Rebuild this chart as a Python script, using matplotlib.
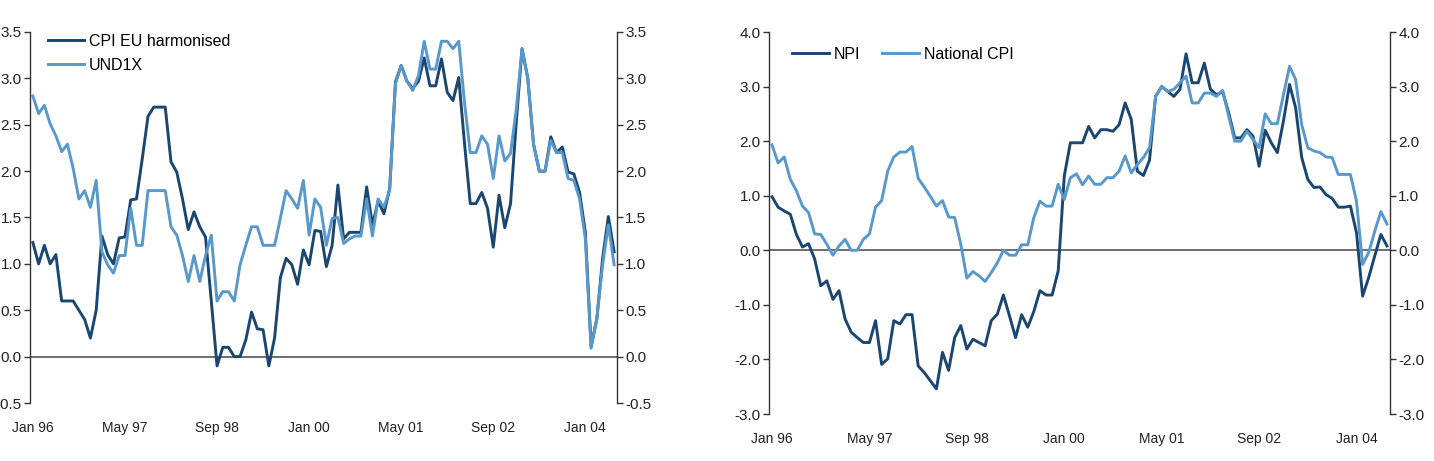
import matplotlib
matplotlib.use('Agg')
import matplotlib.pyplot as plt
import numpy as np
from matplotlib.ticker import FormatStrFormatter

plt.rcParams['font.family'] = ['Liberation Sans', 'DejaVu Sans']

# Monthly observations, Jan 96 .. Jun 04
months = np.arange(102)
tick_pos = [0, 16, 32, 48, 64, 80, 96]
tick_labels = ['Jan 96', 'May 97', 'Sep 98', 'Jan 00', 'May 01', 'Sep 02', 'Jan 04']

cpi_eu = [1.23, 1.0, 1.2, 1.0, 1.1, 0.6, 0.6, 0.6, 0.5, 0.4,
          0.2, 0.5, 1.3, 1.1, 1.0, 1.28, 1.29, 1.69, 1.7, 2.13,
          2.59, 2.69, 2.69, 2.69, 2.1, 1.99, 1.7, 1.37, 1.56, 1.4,
          1.29, 0.6, -0.1, 0.1, 0.1, 0.0, 0.0, 0.18, 0.48, 0.3,
          0.29, -0.1, 0.2, 0.85, 1.06, 0.99, 0.78, 1.15, 0.99, 1.36,
          1.35, 0.97, 1.2, 1.85, 1.27, 1.34, 1.34, 1.34, 1.83, 1.42,
          1.68, 1.54, 1.81, 2.96, 3.14, 2.97, 2.89, 2.97, 3.22, 2.92,
          2.92, 3.21, 2.85, 2.76, 3.01, 2.3, 1.65, 1.65, 1.77, 1.6,
          1.18, 1.74, 1.39, 1.65, 2.53, 3.32, 3.0, 2.29, 2.0, 2.0,
          2.37, 2.2, 2.26, 1.99, 1.97, 1.77, 1.34, 0.11, 0.41, 1.06,
          1.51, 1.13]

und1x = [2.81, 2.62, 2.71, 2.51, 2.38, 2.21, 2.29, 2.03, 1.7, 1.79,
         1.61, 1.9, 1.13, 0.99, 0.9, 1.09, 1.09, 1.6, 1.2, 1.2,
         1.79, 1.79, 1.79, 1.79, 1.4, 1.31, 1.09, 0.81, 1.09, 0.81,
         1.09, 1.31, 0.6, 0.7, 0.7, 0.6, 0.99, 1.2, 1.4, 1.4,
         1.2, 1.2, 1.2, 1.49, 1.79, 1.7, 1.6, 1.9, 1.31, 1.7,
         1.61, 1.2, 1.49, 1.5, 1.22, 1.27, 1.3, 1.3, 1.7, 1.3,
         1.7, 1.61, 1.8, 2.94, 3.14, 2.97, 2.87, 3.03, 3.4, 3.1,
         3.1, 3.4, 3.4, 3.32, 3.4, 2.74, 2.2, 2.2, 2.38, 2.29,
         1.92, 2.38, 2.11, 2.19, 2.67, 3.32, 3.0, 2.29, 2.0, 2.0,
         2.33, 2.2, 2.2, 1.92, 1.9, 1.7, 1.27, 0.09, 0.41, 0.99,
         1.42, 0.99]

npi = [0.98, 0.79, 0.72, 0.66, 0.29, 0.06, 0.12, -0.16, -0.65, -0.56,
       -0.9, -0.74, -1.26, -1.5, -1.6, -1.69, -1.69, -1.29, -2.09, -1.99,
       -1.29, -1.35, -1.18, -1.18, -2.12, -2.24, -2.39, -2.54, -1.87, -2.2,
       -1.6, -1.38, -1.81, -1.63, -1.69, -1.75, -1.29, -1.17, -0.82, -1.2,
       -1.6, -1.18, -1.41, -1.12, -0.74, -0.82, -0.82, -0.38, 1.36, 1.97,
       1.97, 1.97, 2.27, 2.06, 2.21, 2.21, 2.18, 2.3, 2.7, 2.4,
       1.45, 1.37, 1.65, 2.82, 3.0, 2.91, 2.82, 2.95, 3.6, 3.07,
       3.07, 3.43, 2.95, 2.85, 2.91, 2.52, 2.06, 2.06, 2.21, 2.09,
       1.54, 2.2, 1.97, 1.79, 2.37, 3.04, 2.61, 1.7, 1.3, 1.15,
       1.16, 1.02, 0.95, 0.79, 0.79, 0.81, 0.32, -0.84, -0.5, -0.1,
       0.29, 0.08]

national_cpi = [1.93, 1.6, 1.71, 1.3, 1.09, 0.81, 0.69, 0.3, 0.29, 0.11,
                -0.09, 0.08, 0.2, 0.0, 0.0, 0.2, 0.3, 0.79, 0.91, 1.45,
                1.71, 1.8, 1.8, 1.9, 1.32, 1.16, 0.99, 0.81, 0.91, 0.61,
                0.6, 0.11, -0.51, -0.39, -0.47, -0.57, -0.41, -0.23, 0.0, -0.09,
                -0.09, 0.1, 0.1, 0.6, 0.9, 0.81, 0.81, 1.21, 0.93, 1.33,
                1.4, 1.2, 1.36, 1.21, 1.21, 1.33, 1.33, 1.45, 1.73, 1.42,
                1.57, 1.7, 1.88, 2.82, 3.0, 2.91, 2.95, 3.07, 3.19, 2.7,
                2.7, 2.88, 2.88, 2.82, 2.93, 2.46, 2.0, 2.0, 2.18, 2.03,
                1.88, 2.5, 2.32, 2.32, 2.85, 3.37, 3.13, 2.3, 1.88, 1.82,
                1.79, 1.71, 1.7, 1.39, 1.39, 1.39, 0.9, -0.26, -0.04, 0.35,
                0.71, 0.48]

DARK = '#1a4670'
LIGHT = '#5898cb'
TXT = '#222222'
W, H = 1434, 461

fig = plt.figure(figsize=(W / 100, H / 100), dpi=100)
ax1 = fig.add_axes([30 / W, (H - 403) / H, 587 / W, 371 / H])
ax2 = fig.add_axes([769 / W, (H - 414) / H, 621 / W, 382 / H])


def style(ax, lo, hi, step):
    ax.set_xlim(-0.5, 101.5)
    ax.set_ylim(lo, hi)
    ax.set_yticks(np.arange(lo, hi + 1e-9, step))
    ax.yaxis.set_major_formatter(FormatStrFormatter('%.1f'))
    ax.set_xticks(tick_pos)
    ax.set_xticklabels(tick_labels)
    ax.tick_params(axis='x', length=0, pad=13, labelsize=10, colors=TXT)
    ax.tick_params(axis='y', direction='out', length=4, width=1,
                   left=True, right=True, labelleft=True, labelright=True,
                   labelsize=11, pad=2, color='#333333', labelcolor=TXT)
    for s in ['top', 'bottom']:
        ax.spines[s].set_visible(False)
    for s in ['left', 'right']:
        ax.spines[s].set_color('#333333')
        ax.spines[s].set_linewidth(1)
    ax.axhline(0, color='#555555', lw=1.2, zorder=1)


style(ax1, -0.5, 3.5, 0.5)
style(ax2, -3.0, 4.0, 1.0)

ax1.plot(months, cpi_eu, color=DARK, lw=2.1, label='CPI EU harmonised', zorder=3)
ax1.plot(months, und1x, color=LIGHT, lw=2.1, label='UND1X', zorder=4)
ax2.plot(months, npi, color=DARK, lw=2.1, label='NPI', zorder=3)
ax2.plot(months, national_cpi, color=LIGHT, lw=2.1, label='National CPI', zorder=4)

ax1.legend(loc='upper left', bbox_to_anchor=(0.03, 0.995), frameon=False,
           fontsize=11.5, handlelength=2.3, handletextpad=0.3, labelspacing=0.55,
           borderpad=0, borderaxespad=0)
ax2.legend(loc='upper left', bbox_to_anchor=(0.037, 0.962), frameon=False,
           fontsize=11.5, ncol=2, handlelength=2.3, handletextpad=0.3,
           columnspacing=1.4, borderpad=0, borderaxespad=0)

fig.savefig('out.png', dpi=100)
